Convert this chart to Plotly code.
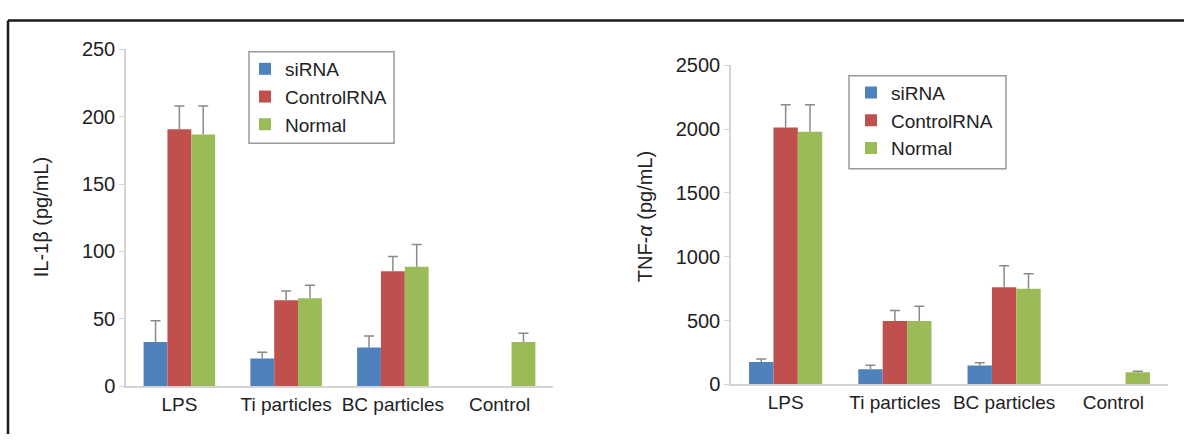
import plotly.graph_objects as go

categories = ["LPS", "Ti particles", "BC particles", "Control"]
series_names = ["siRNA", "ControlRNA", "Normal"]
colors = ["#4F81BD", "#C0504D", "#9BBB59"]

# IL-1beta (pg/mL)
il1b_sirna = [33, 20.7, 28.9, None]
il1b_control_rna = [190.6, 63.8, 85.4, None]
il1b_normal = [186.6, 65.3, 88.7, 32.9]
il1b_sirna_err = [15.6, 4.7, 8.4, None]
il1b_control_rna_err = [17.1, 6.9, 10.8, None]
il1b_normal_err = [21.1, 9.6, 16.5, 6.5]

# TNF-alpha (pg/mL)
tnf_sirna = [174, 117, 147, None]
tnf_control_rna = [2013, 497, 760, None]
tnf_normal = [1981, 497, 750, 94]
tnf_sirna_err = [25, 32, 22, None]
tnf_control_rna_err = [179, 82, 169, None]
tnf_normal_err = [211, 114, 117, 8]

y1_ticks = [0, 50, 100, 150, 200, 250]
y2_ticks = [0, 500, 1000, 1500, 2000, 2500]

W, H = 1184, 445
FONT = "Liberation Sans, Arial, sans-serif"
TXT = "#222222"
AXC = "#d4d4d4"
ERRC = "#8a8a8a"

def px(x):
    return x / W

def py(y):
    return 1 - y / H

fig = go.Figure()

left_sets = [(il1b_sirna, il1b_sirna_err), (il1b_control_rna, il1b_control_rna_err), (il1b_normal, il1b_normal_err)]
right_sets = [(tnf_sirna, tnf_sirna_err), (tnf_control_rna, tnf_control_rna_err), (tnf_normal, tnf_normal_err)]


def add_series(sets, xa, ya, leg, tag):
    for i, (vals, errs) in enumerate(sets):
        og = f"{tag}{i}"
        # main bar with upward error stem (no caps)
        fig.add_trace(go.Bar(
            x=categories, y=vals, name=series_names[i], marker_color=colors[i],
            marker_line_width=0, xaxis=xa, yaxis=ya, legend=leg, offsetgroup=og,
            error_y=dict(type="data", symmetric=False,
                         array=[e if e is not None else 0 for e in errs],
                         arrayminus=[0] * len(errs), color=ERRC, thickness=1.5, width=0),
        ))
        # cap only, at the top of each error bar
        tops = [v + e if (v is not None and e is not None) else None for v, e in zip(vals, errs)]
        fig.add_trace(go.Bar(
            x=categories, y=[0 if t is not None else None for t in tops], base=tops,
            marker_color="rgba(0,0,0,0)", marker_line_width=0, showlegend=False,
            hoverinfo="skip", xaxis=xa, yaxis=ya, offsetgroup=og,
            error_y=dict(type="data", symmetric=True, array=[0] * len(tops),
                         color=ERRC, thickness=1.5, width=5),
        ))


add_series(left_sets, "x", "y", "legend", "L")
add_series(right_sets, "x2", "y2", "legend2", "R")

xaxis_common = dict(type="category", showline=True, linecolor=AXC, linewidth=1.5,
                    ticks="", showgrid=False, zeroline=False,
                    tickfont=dict(family=FONT, size=19, color=TXT), fixedrange=True)
yaxis_common = dict(showline=True, linecolor=AXC, linewidth=1.5, ticks="outside",
                    ticklen=5, tickcolor=AXC, tickwidth=1, showgrid=False, zeroline=False,
                    tickfont=dict(family=FONT, size=20, color=TXT))

fig.update_layout(
    width=W, height=H,
    margin=dict(l=0, r=0, t=0, b=0),
    paper_bgcolor="white", plot_bgcolor="white",
    barmode="group", bargap=0.33, bargroupgap=0,
    xaxis=dict(domain=[px(126), px(553)], anchor="y", **xaxis_common),
    yaxis=dict(domain=[py(395), py(40)], anchor="x", range=[0, 250], tickvals=y1_ticks, **yaxis_common),
    xaxis2=dict(domain=[px(731), px(1168)], anchor="y2", **xaxis_common),
    yaxis2=dict(domain=[py(392.7), py(57.3)], anchor="x2", range=[0, 2500], tickvals=y2_ticks, **yaxis_common),
    legend=dict(x=px(245), y=py(41), xanchor="left", yanchor="top", bgcolor="rgba(0,0,0,0)",
                borderwidth=0, font=dict(family=FONT, size=19, color=TXT), tracegroupgap=0),
    legend2=dict(x=px(851), y=py(66), xanchor="left", yanchor="top", bgcolor="rgba(0,0,0,0)",
                 borderwidth=0, font=dict(family=FONT, size=19, color=TXT), tracegroupgap=0),
    showlegend=True,
)

shapes = [
    # frame
    dict(type="line", xref="paper", yref="paper", x0=px(8), x1=1.0, y0=py(10), y1=py(10),
         line=dict(color="#1a1a1a", width=2.5)),
    dict(type="line", xref="paper", yref="paper", x0=px(8), x1=px(8), y0=py(10), y1=0,
         line=dict(color="#1a1a1a", width=2.5)),
    # legend boxes
    dict(type="rect", xref="paper", yref="paper", x0=px(249), x1=px(394), y0=py(43), y1=py(139),
         line=dict(color="#9a9a9a", width=1.5)),
    dict(type="rect", xref="paper", yref="paper", x0=px(849), x1=px(1006), y0=py(68), y1=py(166),
         line=dict(color="#9a9a9a", width=1.5)),
]
fig.update_layout(shapes=shapes)

fig.add_annotation(text="IL-1β (pg/mL)", xref="paper", yref="paper", x=px(41), y=py(217),
                   xanchor="center", yanchor="middle",
                   textangle=-90, showarrow=False, font=dict(family=FONT, size=20, color=TXT))
fig.add_annotation(text="TNF-<i>α</i> (pg/mL)", xref="paper", yref="paper", x=px(645), y=py(217),
                   xanchor="center", yanchor="middle",
                   textangle=-90, showarrow=False, font=dict(family=FONT, size=20, color=TXT))

fig.write_html("out.html", config={"displayModeBar": False},
               post_script="document.body.style.margin='0';document.body.style.overflow='hidden';")
